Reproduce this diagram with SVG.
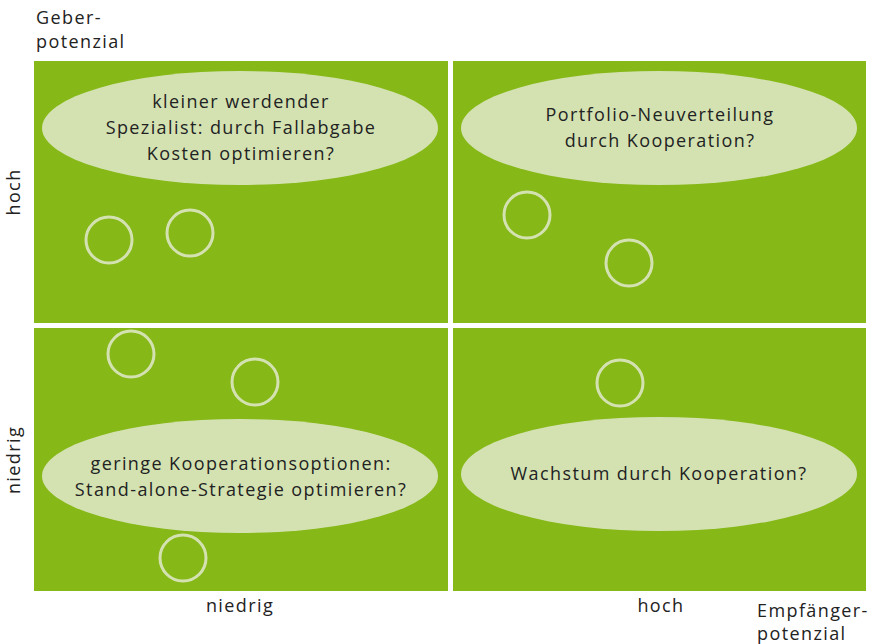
<svg xmlns="http://www.w3.org/2000/svg" width="871" height="644" viewBox="0 0 871 644">
  <style>
    .quad { fill: #86b817; }
    .bubble { fill: #d4e2b2; }
    .dot { fill: none; stroke: #d4e2b2; stroke-width: 3; }
    text { font-family: "Open Sans", "Noto Sans", "DejaVu Sans", sans-serif; font-size: 18px; letter-spacing: 1.4px; fill: #222; }
    .c { text-anchor: middle; }
  </style>
  <rect width="871" height="644" fill="#ffffff"/>

  <!-- quadrants -->
  <g id="quadrants">
    <rect class="quad" x="34" y="61" width="414" height="262"/>
    <rect class="quad" x="453" y="61" width="413" height="262"/>
    <rect class="quad" x="34" y="328" width="414" height="263"/>
    <rect class="quad" x="453" y="328" width="413" height="263"/>
  </g>

  <!-- axis labels -->
  <g id="axis-y">
    <text x="36" y="24">Geber-</text>
    <text x="36" y="48">potenzial</text>
    <text class="c" transform="translate(20,192) rotate(-90)">hoch</text>
    <text class="c" transform="translate(20,460) rotate(-90)">niedrig</text>
  </g>
  <g id="axis-x">
    <text class="c" x="240" y="612">niedrig</text>
    <text class="c" x="661" y="612">hoch</text>
    <text x="757" y="617">Empfänger-</text>
    <text x="757" y="640">potenzial</text>
  </g>

  <!-- strategy bubbles -->
  <g id="node-tl">
    <ellipse class="bubble" cx="240" cy="128" rx="198" ry="57"/>
    <text class="c" x="241" y="108">kleiner werdender</text>
    <text class="c" x="241" y="134">Spezialist: durch Fallabgabe</text>
    <text class="c" x="241" y="160">Kosten optimieren?</text>
  </g>
  <g id="node-tr">
    <ellipse class="bubble" cx="659" cy="128" rx="198" ry="57"/>
    <text class="c" x="660" y="121">Portfolio-Neuverteilung</text>
    <text class="c" x="660" y="147">durch Kooperation?</text>
  </g>
  <g id="node-bl">
    <ellipse class="bubble" cx="240" cy="476" rx="198" ry="57"/>
    <text class="c" x="241" y="470">geringe Kooperationsoptionen:</text>
    <text class="c" x="241" y="496">Stand-alone-Strategie optimieren?</text>
  </g>
  <g id="node-br">
    <ellipse class="bubble" cx="659" cy="474" rx="198" ry="57"/>
    <text class="c" x="659" y="480">Wachstum durch Kooperation?</text>
  </g>

  <!-- positioned units -->
  <g id="markers">
    <circle class="dot" cx="109" cy="240" r="23"/>
    <circle class="dot" cx="190" cy="233" r="23"/>
    <circle class="dot" cx="527" cy="215" r="23"/>
    <circle class="dot" cx="629" cy="263" r="23"/>
    <circle class="dot" cx="131" cy="354" r="23"/>
    <circle class="dot" cx="255" cy="382" r="23"/>
    <circle class="dot" cx="183" cy="558" r="23"/>
    <circle class="dot" cx="620" cy="383" r="23"/>
  </g>
</svg>
